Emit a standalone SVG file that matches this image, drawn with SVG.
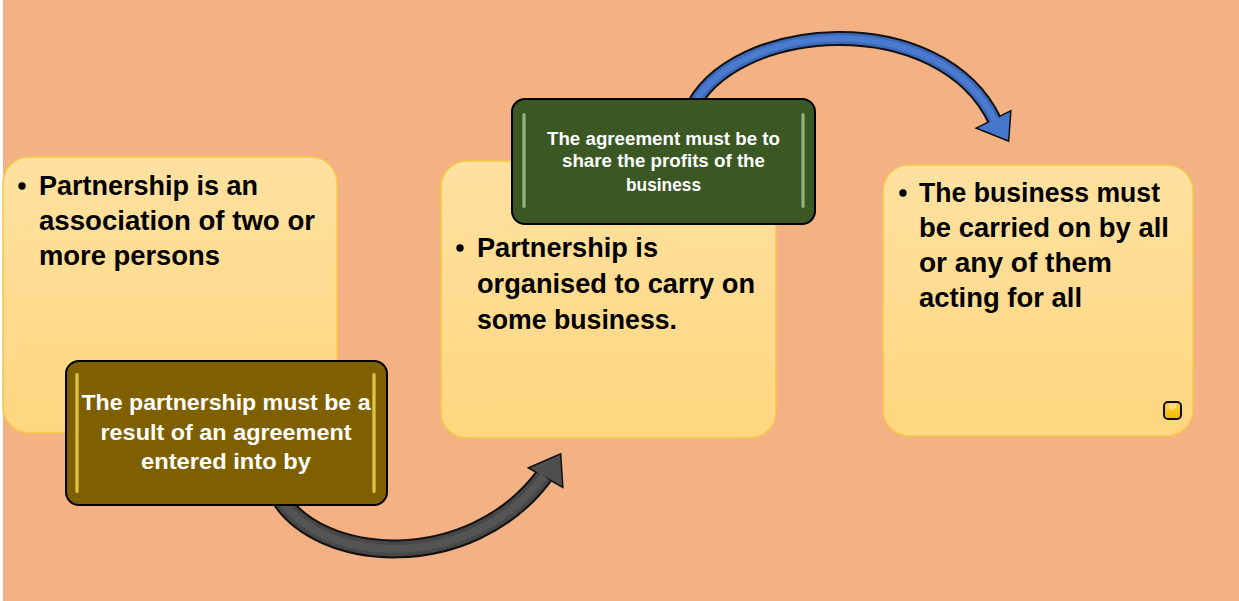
<svg xmlns="http://www.w3.org/2000/svg" width="1239" height="601" viewBox="0 0 1239 601">
  <defs>
    <linearGradient id="noteFill" x1="0" y1="0" x2="0" y2="1">
      <stop offset="0" stop-color="#FFE1A0"/>
      <stop offset="1" stop-color="#FFD680"/>
    </linearGradient>
    <linearGradient id="goldBar" x1="0" y1="0" x2="1" y2="0">
      <stop offset="0" stop-color="#A98A10"/>
      <stop offset="0.5" stop-color="#F2D75A"/>
      <stop offset="1" stop-color="#A98A10"/>
    </linearGradient>
    <linearGradient id="greenBar" x1="0" y1="0" x2="1" y2="0">
      <stop offset="0" stop-color="#5A7C40"/>
      <stop offset="0.5" stop-color="#A9C592"/>
      <stop offset="1" stop-color="#5A7C40"/>
    </linearGradient>
    <linearGradient id="iconFill" x1="0" y1="0" x2="0" y2="1">
      <stop offset="0" stop-color="#FFD54A"/>
      <stop offset="1" stop-color="#F5B800"/>
    </linearGradient>
    <style>
      .note { fill: url(#noteFill); stroke: #F3C84B; stroke-width: 1.5; }
      .big { font-family: "Liberation Sans", Arial, sans-serif; font-weight: bold; font-size: 27px; fill: #000; }
      .label { font-family: "Liberation Sans", Arial, sans-serif; font-weight: bold; fill: #fff; text-anchor: middle; }
      .dark { stroke: #000; stroke-width: 2; }
      .outline { fill: none; stroke: #111; stroke-linecap: butt; }
    </style>
  </defs>

  <!-- page -->
  <rect x="0" y="0" width="1239" height="601" fill="#F4B183"/>
  <rect x="0" y="0" width="3" height="601" fill="#FFFFFF"/>

  <!-- yellow note cards -->
  <g id="card-association">
    <rect class="note" x="3" y="157" width="334" height="276" rx="26"/>
    <circle cx="22" cy="186" r="3.7"/>
    <text class="big" x="39" y="195" textLength="219" lengthAdjust="spacingAndGlyphs">Partnership is an</text>
    <text class="big" x="39" y="230" textLength="276" lengthAdjust="spacingAndGlyphs">association of two or</text>
    <text class="big" x="39" y="265" textLength="181" lengthAdjust="spacingAndGlyphs">more persons</text>
  </g>

  <g id="card-business">
    <rect class="note" x="441" y="161" width="335" height="277" rx="26"/>
    <circle cx="460" cy="248" r="3.7"/>
    <text class="big" x="477" y="257" textLength="181" lengthAdjust="spacingAndGlyphs">Partnership is</text>
    <text class="big" x="477" y="293" textLength="278" lengthAdjust="spacingAndGlyphs">organised to carry on</text>
    <text class="big" x="477" y="329" textLength="200" lengthAdjust="spacingAndGlyphs">some business.</text>
  </g>

  <g id="card-agency">
    <rect class="note" x="883" y="165" width="310" height="271" rx="26"/>
    <circle cx="903" cy="193" r="3.7"/>
    <text class="big" x="919" y="202" textLength="241" lengthAdjust="spacingAndGlyphs">The business must</text>
    <text class="big" x="919" y="237" textLength="250" lengthAdjust="spacingAndGlyphs">be carried on by all</text>
    <text class="big" x="919" y="272" textLength="193" lengthAdjust="spacingAndGlyphs">or any of them</text>
    <text class="big" x="919" y="307" textLength="163" lengthAdjust="spacingAndGlyphs">acting for all</text>
    <rect x="1164" y="402" width="17" height="17" rx="4" fill="url(#iconFill)" stroke="#111" stroke-width="2"/>
    <path d="M1169 404 L1169 408 L1172.5 410 L1176 408 L1176 404" fill="#FFE27A" stroke="none"/>
  </g>

  <!-- curved connectors -->
  <g id="connectors">
    <!-- lower grey arrow -->
    <g id="arrow-grey">
      <path class="outline" d="M278 495 C318 565 470 575 544 476" stroke-width="19"/>
      <polygon points="560,455 530,468 562,486" fill="#111" stroke="#111" stroke-width="3" stroke-linejoin="miter"/>
      <path d="M278 495 C318 565 470 575 544 476" fill="none" stroke="#474747" stroke-width="15"/>
      <path d="M278 495 C318 565 470 575 544 476" fill="none" stroke="#545454" stroke-width="8"/>
      <polygon points="560,455 530,468 562,486" fill="#4E4E4E"/>
    </g>
    <!-- upper blue arrow -->
    <g id="arrow-blue">
      <path class="outline" d="M690 112 C730 20 940 5 995 121" stroke-width="15"/>
      <polygon points="1008,140 978,128 1010,112" fill="#111" stroke="#111" stroke-width="3" stroke-linejoin="miter"/>
      <path d="M690 112 C730 20 940 5 995 121" fill="none" stroke="#3D69BA" stroke-width="11"/>
      <path d="M690 112 C730 20 940 5 995 121" fill="none" stroke="#4A7BD0" stroke-width="6"/>
      <polygon points="1008,140 978,128 1010,112" fill="#4676CB"/>
    </g>
  </g>

  <!-- dark callout labels -->
  <g id="label-agreement">
    <rect class="dark" x="66" y="361" width="321" height="144" rx="13" fill="#7F6000"/>
    <rect x="75" y="373" width="4" height="120" rx="2" fill="url(#goldBar)"/>
    <rect x="372" y="373" width="4" height="120" rx="2" fill="url(#goldBar)"/>
    <text class="label" x="226" y="410" font-size="22" textLength="289" lengthAdjust="spacingAndGlyphs">The partnership must be a</text>
    <text class="label" x="226" y="440" font-size="22" textLength="251" lengthAdjust="spacingAndGlyphs">result of an agreement</text>
    <text class="label" x="226" y="469" font-size="22" textLength="170" lengthAdjust="spacingAndGlyphs">entered into by</text>
  </g>

  <g id="label-profits">
    <rect class="dark" x="512" y="99" width="303" height="125" rx="13" fill="#3A5724"/>
    <rect x="522" y="113" width="4" height="95" rx="2" fill="url(#greenBar)"/>
    <rect x="801" y="113" width="4" height="95" rx="2" fill="url(#greenBar)"/>
    <text class="label" x="663.5" y="145" font-size="18" textLength="233" lengthAdjust="spacingAndGlyphs">The agreement must be to</text>
    <text class="label" x="663.5" y="167" font-size="18" textLength="203" lengthAdjust="spacingAndGlyphs">share the profits of the</text>
    <text class="label" x="663.5" y="191" font-size="18" textLength="75" lengthAdjust="spacingAndGlyphs">business</text>
  </g>
</svg>
